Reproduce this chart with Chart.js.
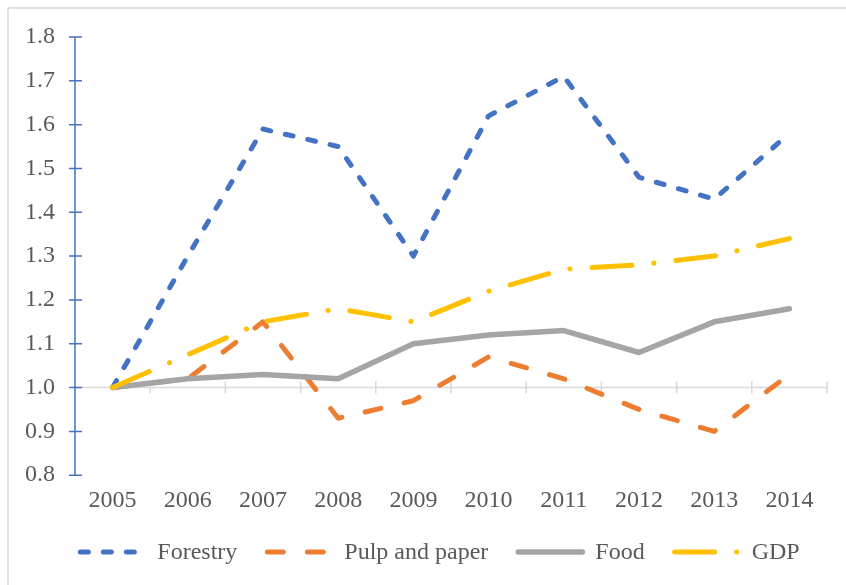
<!DOCTYPE html>
<html>
<head>
<meta charset="utf-8">
<title>Forestry, Pulp and paper, Food, GDP 2005-2014</title>
<script src="https://cdn.jsdelivr.net/npm/chart.js@4"></script>
<style>
  html, body { margin: 0; padding: 0; background: #ffffff; }
  #wrap { width: 846px; height: 585px; }
</style>
</head>
<body>
<div id="wrap"><canvas id="chart" width="846" height="585"></canvas></div>
<script>
/* ---------- data ---------- */
const years = ['2005', '2006', '2007', '2008', '2009', '2010', '2011', '2012', '2013', '2014'];
const forestry = [1.00, 1.30, 1.59, 1.55, 1.30, 1.62, 1.71, 1.48, 1.43, 1.58];
const pulpPaper = [1.00, 1.02, 1.15, 0.93, 0.97, 1.07, 1.02, 0.95, 0.90, 1.03];
const food = [1.00, 1.02, 1.03, 1.02, 1.10, 1.12, 1.13, 1.08, 1.15, 1.18];
const gdp = [1.00, 1.075, 1.15, 1.18, 1.15, 1.22, 1.27, 1.28, 1.30, 1.34];

const seriesNames = ['Forestry', 'Pulp and paper', 'Food', 'GDP'];
const yMin = 0.8, yMax = 1.8, yStep = 0.1;
const crossAt = 1.0;   // category axis crosses the value axis here

const textColor = '#595959';
const fontFamily = '"Liberation Serif", "Times New Roman", serif';
const fontSize = 24;
Chart.defaults.font.family = fontFamily;
Chart.defaults.color = textColor;

/* ---------- axes, frame and legend drawn by hand ---------- */
const excelLook = {
  id: 'excelLook',
  beforeDatasetsDraw(chart) {
    const { ctx, chartArea: a, scales: { x, y } } = chart;
    ctx.save();

    // horizontal axis line at 1.0 with marks between categories
    const y1 = y.getPixelForValue(crossAt);
    const n = x.ticks.length;
    ctx.strokeStyle = '#d9d9d9';
    ctx.lineWidth = 1.5;
    ctx.beginPath();
    ctx.moveTo(a.left, y1);
    ctx.lineTo(a.right, y1);
    for (let i = 1; i <= n; i++) {
      const px = a.left + i * (a.right - a.left) / n;
      ctx.moveTo(px, y1 - 6);
      ctx.lineTo(px, y1 + 6);
    }
    ctx.stroke();

    // blue value axis with cross marks
    ctx.strokeStyle = '#4472c4';
    ctx.lineWidth = 1.5;
    ctx.beginPath();
    ctx.moveTo(a.left, a.top);
    ctx.lineTo(a.left, a.bottom);
    y.ticks.forEach(t => {
      const py = y.getPixelForValue(t.value);
      ctx.moveTo(a.left - 6, py);
      ctx.lineTo(a.left + 7, py);
    });
    ctx.stroke();
    ctx.restore();
  },
  afterDraw(chart) {
    const { ctx } = chart;
    ctx.save();

    // light outer frame
    ctx.strokeStyle = '#d9d9d9';
    ctx.lineWidth = 1.5;
    ctx.strokeRect(8, 8, chart.width, chart.height);

    // legend row
    ctx.font = fontSize + 'px ' + fontFamily;
    const sample = 66, gapText = 13, gapItem = 28;
    const sets = chart.data.datasets;
    const widths = sets.map(ds => sample + gapText + ctx.measureText(ds.label).width);
    const total = widths.reduce((s, w) => s + w, 0) + gapItem * (sets.length - 1);
    let lx = 439 - total / 2;
    const ly = 552;
    sets.forEach((ds, i) => {
      ctx.strokeStyle = ds.borderColor;
      ctx.lineWidth = ds.borderWidth;
      ctx.lineCap = 'round';
      ctx.setLineDash(ds.borderDash || []);
      ctx.beginPath();
      ctx.moveTo(lx + 2, ly);
      ctx.lineTo(lx + sample, ly);
      ctx.stroke();
      ctx.setLineDash([]);
      ctx.fillStyle = textColor;
      ctx.textAlign = 'left';
      ctx.textBaseline = 'middle';
      ctx.fillText(ds.label, lx + sample + gapText, ly + 1);
      lx += widths[i] + gapItem;
    });
    ctx.restore();
  }
};

function lineSet(label, data, color, width, dash, order) {
  return {
    label: label,
    data: data,
    borderColor: color,
    backgroundColor: color,
    borderWidth: width,
    borderDash: dash,
    borderCapStyle: 'round',
    borderJoinStyle: 'round',
    pointRadius: 0,
    pointHoverRadius: 0,
    tension: 0,
    fill: false,
    order: order
  };
}

new Chart(document.getElementById('chart'), {
  type: 'line',
  data: {
    labels: years,
    datasets: [
      lineSet(seriesNames[0], forestry, '#4472c4', 5, [8, 15], 4),
      lineSet(seriesNames[1], pulpPaper, '#ed7d31', 5, [16, 24], 3),
      lineSet(seriesNames[2], food, '#a5a5a5', 5.5, [], 2),
      lineSet(seriesNames[3], gdp, '#ffc000', 5, [40, 22, 0.1, 22], 1)
    ]
  },
  options: {
    responsive: false,
    animation: false,
    layout: { padding: { top: 37, left: 10, right: 19, bottom: 59 } },
    plugins: {
      legend: { display: false },
      tooltip: { enabled: false }
    },
    scales: {
      x: {
        offset: true,
        grid: { display: false, drawTicks: false },
        border: { display: false },
        ticks: {
          padding: 11,
          maxRotation: 0,
          autoSkip: false,
          color: textColor,
          font: { size: fontSize }
        }
      },
      y: {
        min: yMin,
        max: yMax,
        grid: { display: false, drawTicks: false },
        border: { display: false },
        afterFit(scale) { scale.width = 65; },
        ticks: {
          stepSize: yStep,
          padding: 20,
          color: textColor,
          font: { size: fontSize },
          callback: v => Number(v).toFixed(1)
        }
      }
    }
  },
  plugins: [excelLook]
});
</script>
</body>
</html>
